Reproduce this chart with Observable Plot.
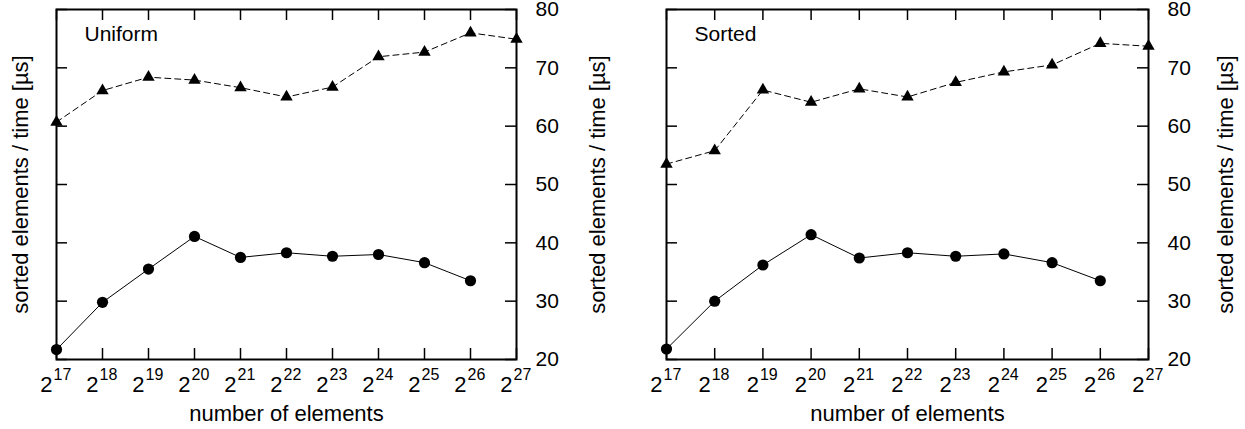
<!DOCTYPE html>
<html>
<head>
<meta charset="utf-8">
<script src="https://cdn.jsdelivr.net/npm/d3@7"></script>
<script src="https://cdn.jsdelivr.net/npm/@observablehq/plot@0.6"></script>
<style>
  body { margin: 0; background: #fff; }
  #wrap { display: flex; width: 1245px; height: 429px; }
  svg { overflow: visible; }
</style>
</head>
<body>
<div id="wrap"></div>
<script>
const exponents = [17, 18, 19, 20, 21, 22, 23, 24, 25, 26, 27];
const yTicks = [20, 30, 40, 50, 60, 70, 80];
const yLabel = "sorted elements / time [µs]";
const xLabel = "number of elements";

const uniformTriangles = [60.7, 66.1, 68.4, 67.9, 66.6, 65.0, 66.7, 71.9, 72.7, 76.0, 74.9];
const uniformCircles   = [21.7, 29.8, 35.5, 41.1, 37.5, 38.3, 37.7, 38.0, 36.6, 33.5];
const sortedTriangles  = [53.5, 55.8, 66.2, 64.1, 66.4, 65.0, 67.5, 69.3, 70.5, 74.2, 73.7];
const sortedCircles    = [21.8, 30.0, 36.2, 41.4, 37.4, 38.3, 37.7, 38.1, 36.6, 33.5];

const font = "Liberation Sans, Arial, Helvetica, sans-serif";

function panel({title, tri, circ, width, marginLeft, marginRight, leftLabel, rightLabelDx}) {
  const height = 429, marginTop = 9, marginBottom = 70;
  const fw = width - marginLeft - marginRight;
  const fh = height - marginTop - marginBottom;
  const tl = 11;
  const triData = tri.map((v, i) => ({x: exponents[i], y: v}));
  const circData = circ.map((v, i) => ({x: exponents[i], y: v}));
  const marks = [
    // ticks
    Plot.tickY(yTicks, {y: d => d, insetRight: fw - tl, stroke: "black", strokeWidth: 1.5}),
    Plot.tickY(yTicks, {y: d => d, insetLeft: fw - tl, stroke: "black", strokeWidth: 1.5}),
    Plot.tickX(exponents, {x: d => d, insetTop: fh - tl, stroke: "black", strokeWidth: 1.5}),
    Plot.tickX(exponents, {x: d => d, insetBottom: fh - tl, stroke: "black", strokeWidth: 1.5}),
    Plot.frame({stroke: "black", strokeWidth: 2}),
    // lines
    Plot.line(triData, {x: "x", y: "y", stroke: "black", strokeWidth: 1, strokeDasharray: "6,4"}),
    Plot.dot(triData, {x: "x", y: "y", symbol: "triangle", r: 4.6, fill: "black", stroke: "none"}),
    Plot.line(circData, {x: "x", y: "y", stroke: "black", strokeWidth: 1}),
    Plot.dot(circData, {x: "x", y: "y", symbol: "circle", r: 5.6, fill: "black", stroke: "none"}),
    // x tick labels: base and exponent
    Plot.text(exponents, {x: d => d, frameAnchor: "bottom", text: () => "2", textAnchor: "end",
      lineAnchor: "bottom", dx: -4, dy: 32, fontSize: 22, fill: "black"}),
    Plot.text(exponents, {x: d => d, frameAnchor: "bottom", text: d => String(d), textAnchor: "start",
      lineAnchor: "bottom", dx: -3, dy: 20, fontSize: 16, fill: "black"}),
    // y tick labels on the right
    Plot.text(yTicks, {y: d => d, frameAnchor: "right", text: d => String(d), textAnchor: "start",
      dx: 19, fontSize: 21, fill: "black"}),
    // x label
    Plot.text([xLabel], {frameAnchor: "bottom", text: d => d, textAnchor: "middle", lineAnchor: "bottom",
      dy: 61, fontSize: 22, fill: "black"}),
    // right y label
    Plot.text([yLabel], {frameAnchor: "right", text: d => d, rotate: -90, textAnchor: "middle",
      lineAnchor: "middle", dx: rightLabelDx, fontSize: 22, fill: "black"}),
    // title
    Plot.text([title], {frameAnchor: "top-left", text: d => d, textAnchor: "start", lineAnchor: "bottom",
      dx: 28, dy: 31, fontSize: 21, fill: "black"})
  ];
  if (leftLabel) {
    marks.push(Plot.text([yLabel], {frameAnchor: "left", text: d => d, rotate: -90, textAnchor: "middle",
      lineAnchor: "middle", dx: -36, fontSize: 22, fill: "black"}));
  }
  return Plot.plot({
    width, height, marginLeft, marginRight, marginTop, marginBottom,
    x: {domain: [17, 27], axis: null},
    y: {domain: [20, 80], axis: null},
    style: {fontFamily: font, background: "white", overflow: "visible"},
    marks
  });
}

const wrap = document.getElementById("wrap");
wrap.appendChild(panel({title: "Uniform", tri: uniformTriangles, circ: uniformCircles,
  width: 622, marginLeft: 56, marginRight: 106, leftLabel: true, rightLabelDx: 81}));
wrap.appendChild(panel({title: "Sorted", tri: sortedTriangles, circ: sortedCircles,
  width: 623, marginLeft: 44, marginRight: 97, leftLabel: false, rightLabelDx: 77}));
</script>
</body>
</html>
